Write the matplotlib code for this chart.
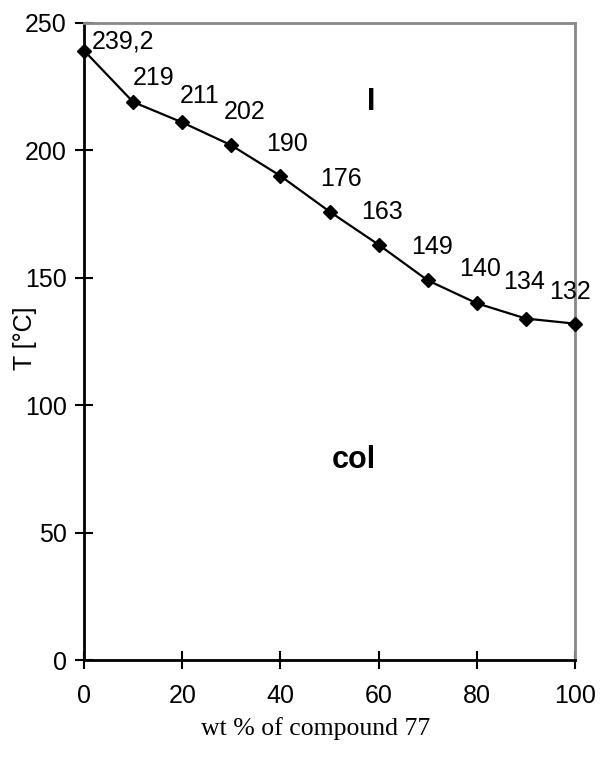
import matplotlib
matplotlib.use("Agg")
import matplotlib.pyplot as plt

# composition (wt %) and clearing temperature
wt_percent = [0, 10, 20, 30, 40, 50, 60, 70, 80, 90, 100]
temperature = [239.2, 219, 211, 202, 190, 176, 163, 149, 140, 134, 132]
point_labels = ["239,2", "219", "211", "202", "190", "176", "163", "149", "140", "134", "132"]
# label placement relative to each marker, in pixels (right, up)
label_offsets = [(39, 2), (20, 17), (17, 19), (13, 26), (7, 25), (11, 26),
                 (3, 26), (4, 26), (3, 27), (-2, 30), (-5, 25)]
x_ticks = [0, 20, 40, 60, 80, 100]
y_ticks = [0, 50, 100, 150, 200, 250]

plt.rcParams["font.family"] = ["Liberation Sans", "DejaVu Sans"]

W, H = 600, 769
fig = plt.figure(figsize=(W / 100, H / 100), dpi=100)
ax = fig.add_axes([84 / W, 1 - 660 / H, (575 - 84) / W, (660 - 23) / H])

ax.plot(wt_percent, temperature, color="black", lw=1.6, marker="D", ms=7.5,
        mfc="black", mec="black", clip_on=False, zorder=3)

for x, y, lab, (dx, dy) in zip(wt_percent, temperature, point_labels, label_offsets):
    ax.annotate(lab, (x, y), xytext=(dx, dy), textcoords="offset pixels",
                ha="center", va="baseline", fontsize=18)

ax.text(58.55, 215.9, "I", fontsize=22, fontweight="bold", ha="center", va="baseline")
ax.text(54.9, 75.4, "col", fontsize=22, fontweight="bold", ha="center", va="baseline")

ax.set_xlim(0, 100)
ax.set_ylim(0, 250)
ax.set_xticks(x_ticks)
ax.set_yticks(y_ticks)
ax.tick_params(direction="inout", length=12.5, width=1.5, labelsize=18)
ax.tick_params(axis="x", pad=11)
ax.tick_params(axis="y", pad=6)

for side in ("left", "bottom"):
    ax.spines[side].set_color("black")
    ax.spines[side].set_linewidth(2)
for side in ("top", "right"):
    ax.spines[side].set_color("#888888")
    ax.spines[side].set_linewidth(2)

fig.text(25 / W, 1 - 338 / H, "T [°C]", rotation=90, fontsize=18,
         ha="center", va="center")
fig.text(315.5 / W, 1 - 735 / H, "wt % of compound 77",
         ha="center", va="baseline", fontsize=18.5,
         family=["Liberation Serif", "DejaVu Serif"])

fig.savefig("out.png", dpi=100)
